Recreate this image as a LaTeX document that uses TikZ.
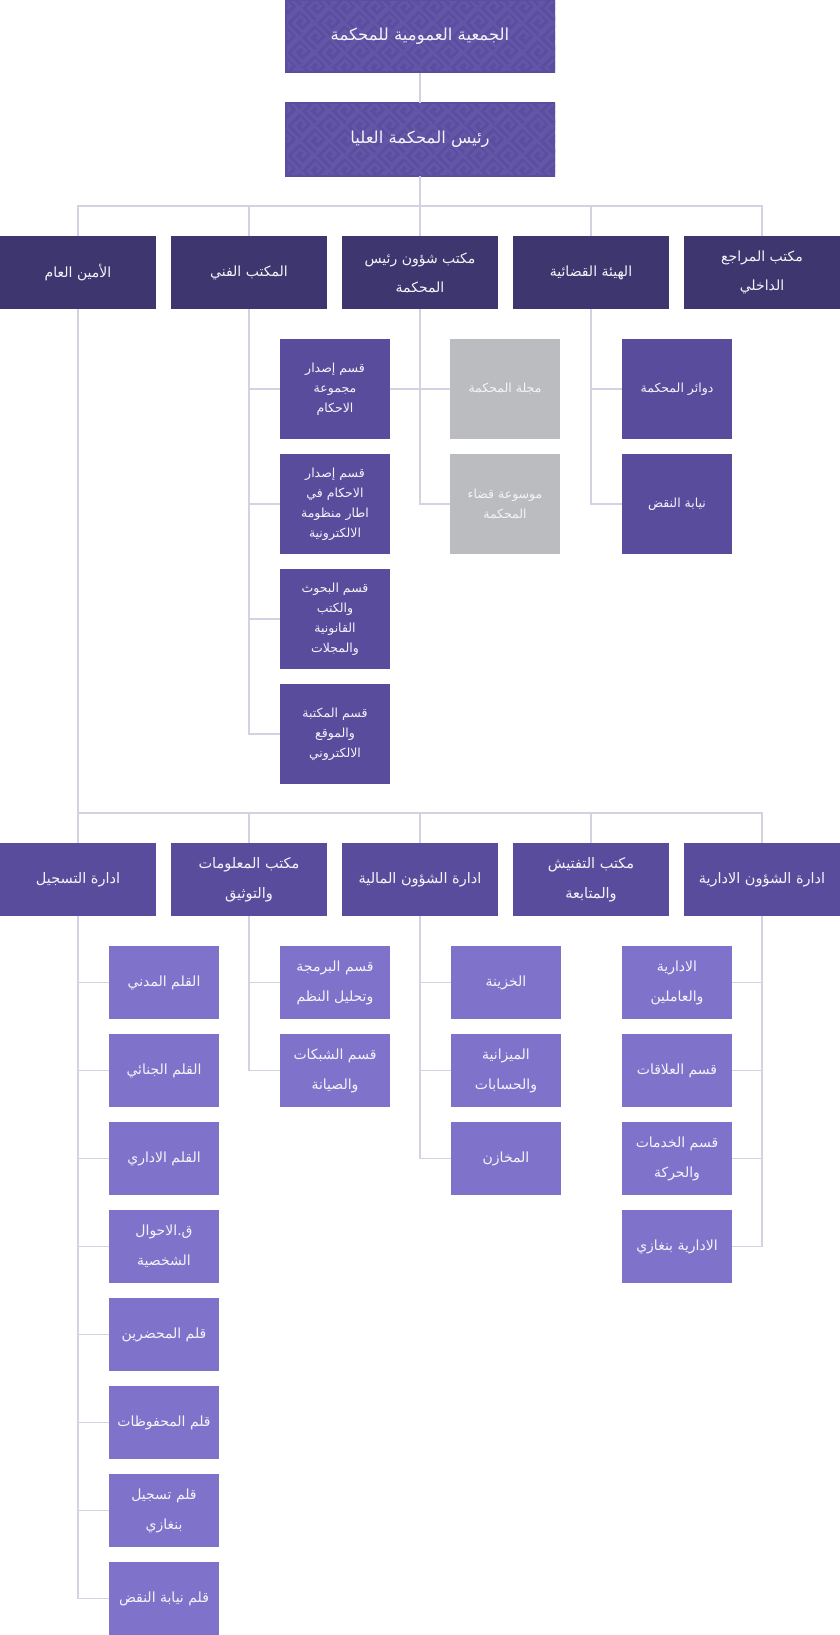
\documentclass[tikz,border=0pt]{standalone}
\usepackage{fontspec}
\newfontfamily\arabicfont[Script=Arabic]{DejaVu Sans}
\TeXXeTstate=1
\newcommand\ar[1]{\beginR#1\endR}
\definecolor{topc}{HTML}{5B4D9F}
\definecolor{patc}{HTML}{6356A7}
\definecolor{rowone}{HTML}{3E366F}
\definecolor{midc}{HTML}{5A4C9D}
\definecolor{grayc}{HTML}{BBBCC0}
\definecolor{lowc}{HTML}{7F72CB}
\definecolor{linec}{HTML}{D3D2E2}
\definecolor{txtc}{HTML}{F4F4F8}
\tikzset{
  base/.style={rectangle, inner sep=0pt, align=center, text=txtc},
  keycell/.style={draw=patc, line width=2.8},
  topbox/.style={base, minimum width=270, minimum height=73,
    font=\arabicfont\fontsize{16.5}{29}\selectfont},
  rowbox/.style={base, fill=rowone, minimum width=156, minimum height=73,
    font=\arabicfont\fontsize{14}{29}\selectfont},
  lowbox/.style={base, fill=midc, minimum width=156, minimum height=73,
    font=\arabicfont\fontsize{14.5}{30}\selectfont},
  subbox/.style={base, fill=midc, minimum width=110, minimum height=100,
    font=\arabicfont\fontsize{12.5}{20}\selectfont},
  graybox/.style={base, fill=grayc, minimum width=110, minimum height=100,
    font=\arabicfont\fontsize{12.5}{20}\selectfont},
  leafbox/.style={base, fill=lowc, minimum width=110, minimum height=73,
    font=\arabicfont\fontsize{14}{30}\selectfont},
  conn/.style={draw=linec, line width=1.2},
}
\begin{document}
\begin{tikzpicture}[x=1pt,y=-1pt]
\useasboundingbox (0,0) rectangle (840,1635);
% patterned backgrounds of the two top boxes
\foreach \cy in {36.5,139.5}{
  \begin{scope}
    \clip (285,\cy-36.5) rectangle (555,\cy+36.5);
    \fill[topc] (285,\cy-36.5) rectangle (555,\cy+36.5);
    \begin{scope}[shift={(420,\cy)}, rotate=45]
      \foreach \i in {-8,...,8}{\foreach \j in {-8,...,8}{
        \draw[keycell] (\i*21,\j*21) -- ++(19,0) -- ++(0,19) -- ++(-15,0) -- ++(0,-13) -- ++(10,0) -- ++(0,7) -- ++(-5,0);
      }}
    \end{scope}
    \draw[topc, line width=3] (285,\cy-36.5) rectangle (555,\cy+36.5);
  \end{scope}
}
% top
\node[topbox] (top) at (420,36.5) {\ar{الجمعية العمومية للمحكمة}};
\node[topbox] (pres) at (420,139.5) {\ar{رئيس المحكمة العليا}};
% row one
\node[rowbox] (r1a) at (78,272.5) {\ar{الأمين العام}};
\node[rowbox] (r1b) at (249,272.5) {\ar{المكتب الفني}};
\node[rowbox] (r1c) at (420,272.5) {\ar{مكتب شؤون رئيس}\\\ar{المحكمة}};
\node[rowbox] (r1d) at (591,272.5) {\ar{الهيئة القضائية}};
\node[rowbox] (r1e) at (762,272.5) {\ar{مكتب المراجع}\\\ar{الداخلي}};
% technical office subs
\node[subbox] (f1) at (335,389) {\ar{قسم إصدار}\\\ar{مجموعة}\\\ar{الاحكام}};
\node[subbox] (f2) at (335,504) {\ar{قسم إصدار}\\\ar{الاحكام في}\\\ar{اطار منظومة}\\\ar{الالكترونية}};
\node[subbox] (f3) at (335,619) {\ar{قسم البحوث}\\\ar{والكتب}\\\ar{القانونية}\\\ar{والمجلات}};
\node[subbox] (f4) at (335,734) {\ar{قسم المكتبة}\\\ar{والموقع}\\\ar{الالكتروني}};
% gray
\node[graybox] (g1) at (505,389) {\ar{مجلة المحكمة}};
\node[graybox] (g2) at (505,504) {\ar{موسوعة قضاء}\\\ar{المحكمة}};
% judicial
\node[subbox] (q1) at (677,389) {\ar{دوائر المحكمة}};
\node[subbox] (q2) at (677,504) {\ar{نيابة النقض}};
% lower row
\node[lowbox] (r2a) at (78,879.5) {\ar{ادارة التسجيل}};
\node[lowbox] (r2b) at (249,879.5) {\ar{مكتب المعلومات}\\\ar{والتوثيق}};
\node[lowbox] (r2c) at (420,879.5) {\ar{ادارة الشؤون المالية}};
\node[lowbox] (r2d) at (591,879.5) {\ar{مكتب التفتيش}\\\ar{والمتابعة}};
\node[lowbox] (r2e) at (762,879.5) {\ar{ادارة الشؤون الادارية}};
% registration
\node[leafbox] (s1) at (164,982.5) {\ar{القلم المدني}};
\node[leafbox] (s2) at (164,1070.5) {\ar{القلم الجنائي}};
\node[leafbox] (s3) at (164,1158.5) {\ar{القلم الاداري}};
\node[leafbox] (s4) at (164,1246.5) {\ar{ق.الاحوال}\\\ar{الشخصية}};
\node[leafbox] (s5) at (164,1334.5) {\ar{قلم المحضرين}};
\node[leafbox] (s6) at (164,1422.5) {\ar{قلم المحفوظات}};
\node[leafbox] (s7) at (164,1510.5) {\ar{قلم تسجيل}\\\ar{بنغازي}};
\node[leafbox] (s8) at (164,1598.5) {\ar{قلم نيابة النقض}};
% info
\node[leafbox] (i1) at (335,982.5) {\ar{قسم البرمجة}\\\ar{وتحليل النظم}};
\node[leafbox] (i2) at (335,1070.5) {\ar{قسم الشبكات}\\\ar{والصيانة}};
% finance
\node[leafbox] (m1) at (506,982.5) {\ar{الخزينة}};
\node[leafbox] (m2) at (506,1070.5) {\ar{الميزانية}\\\ar{والحسابات}};
\node[leafbox] (m3) at (506,1158.5) {\ar{المخازن}};
% admin
\node[leafbox] (a1) at (677,982.5) {\ar{الادارية}\\\ar{والعاملين}};
\node[leafbox] (a2) at (677,1070.5) {\ar{قسم العلاقات}};
\node[leafbox] (a3) at (677,1158.5) {\ar{قسم الخدمات}\\\ar{والحركة}};
\node[leafbox] (a4) at (677,1246.5) {\ar{الادارية بنغازي}};
% connectors
\coordinate (bus1) at (420,206);
\coordinate (bus2) at (78,813);
\draw[conn] (top.south) -- (pres.north);
\draw[conn] (pres.south) -- (bus1);
\foreach \n in {r1a,r1b,r1c,r1d,r1e} \draw[conn] (bus1) -| (\n.north);
\foreach \n in {f1,f2,f3,f4} \draw[conn] (r1b.south) |- (\n.west);
\draw[conn] (f1.east) -- (g1.west);
\foreach \n in {g1,g2} \draw[conn] (r1c.south) |- (\n.west);
\foreach \n in {q1,q2} \draw[conn] (r1d.south) |- (\n.west);
\draw[conn] (r1a.south) -- (r2a.north);
\foreach \n in {r2b,r2c,r2d,r2e} \draw[conn] (bus2) -| (\n.north);
\foreach \n in {s1,s2,s3,s4,s5,s6,s7,s8} \draw[conn] (r2a.south) |- (\n.west);
\foreach \n in {i1,i2} \draw[conn] (r2b.south) |- (\n.west);
\foreach \n in {m1,m2,m3} \draw[conn] (r2c.south) |- (\n.west);
\foreach \n in {a1,a2,a3,a4} \draw[conn] (r2e.south) |- (\n.east);
\end{tikzpicture}
\end{document}
